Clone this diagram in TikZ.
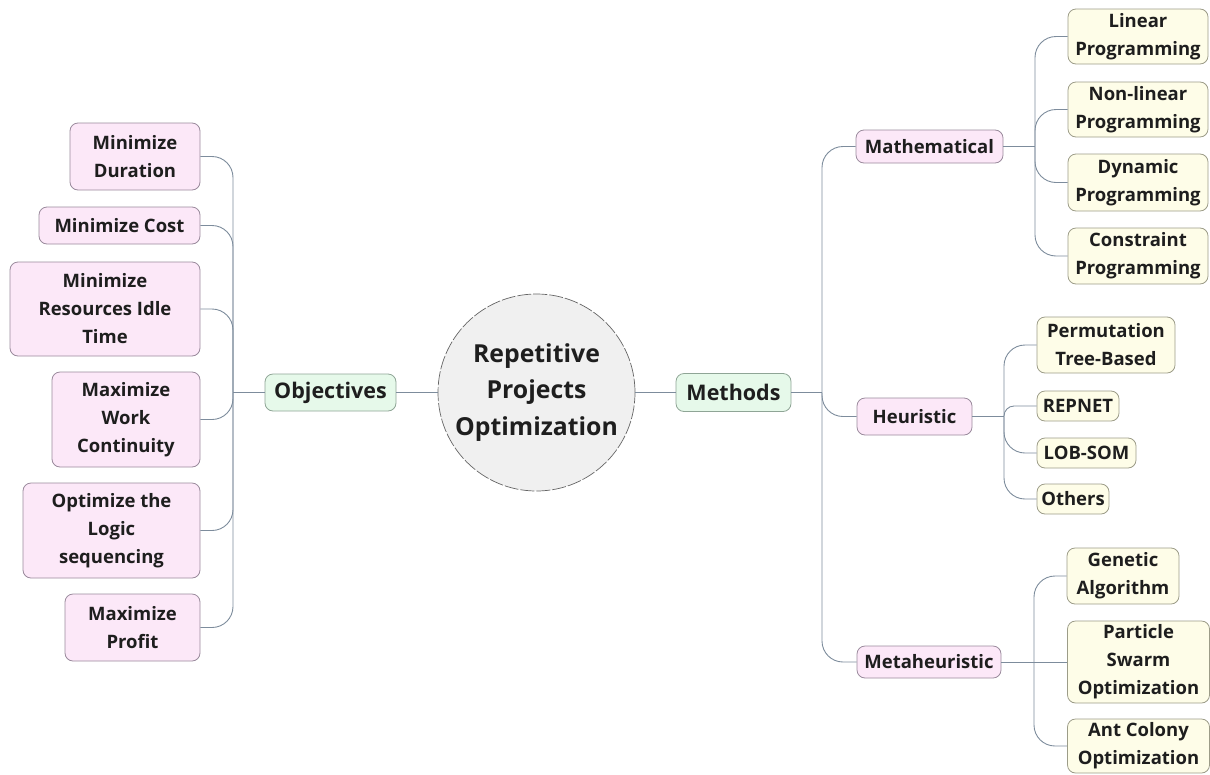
\documentclass[tikz,border=0pt]{standalone}
\usepackage{fontspec}
\setmainfont{Open Sans}
\definecolor{pinkf}{HTML}{FCE8F8}
\definecolor{pinkd}{HTML}{9A8A9C}
\definecolor{yelf}{HTML}{FEFDE8}
\definecolor{yeld}{HTML}{9C9C88}
\definecolor{grnf}{HTML}{E6F9EA}
\definecolor{grnd}{HTML}{8FA596}
\definecolor{linec}{HTML}{7D8C9C}
\definecolor{txt}{HTML}{1E1E1E}
\tikzset{
  box/.style={rounded corners=8pt, line width=0.8pt, align=center, inner sep=0pt,
    font=\bfseries\fontsize{18.5}{28}\selectfont, text=txt},
  pinkbox/.style={box, fill=pinkf, draw=pinkd},
  yelbox/.style={box, fill=yelf, draw=yeld},
  grnbox/.style={box, fill=grnf, draw=grnd, font=\bfseries\fontsize{21.5}{28}\selectfont},
  conn/.style={draw=linec, line width=0.9pt},
  curv/.style={conn, rounded corners=21pt},
}
\begin{document}
\begin{tikzpicture}[x=1pt,y=-1pt]
\useasboundingbox (0,0) rectangle (1210,774);
% centre
\node[circle, minimum size=197pt, inner sep=0pt, fill=black!6, draw=black!60, line width=0.7pt,
  dash pattern=on 14pt off 2pt, align=center, text=txt,
  font=\bfseries\fontsize{24.8}{36.5}\selectfont] (c) at (536.5,392.5) {Repetitive\\Projects\\Optimization};
\node[grnbox, minimum width=131pt, minimum height=37pt] (obj) at (330.5,392.5) {Objectives};
\node[grnbox, minimum width=115pt, minimum height=38pt] (met) at (733.5,392.5) {Methods};
% objectives
\node[pinkbox, minimum width=130pt, minimum height=67pt] (o1) at (135,156.5) {Minimize\\Duration};
\node[pinkbox, minimum width=161pt, minimum height=37pt] (o2) at (119.5,225.5) {Minimize Cost};
\node[pinkbox, minimum width=190pt, minimum height=94pt] (o3) at (105,309) {Minimize\\Resources Idle\\Time};
\node[pinkbox, minimum width=148pt, minimum height=95pt] (o4) at (126,419.5) {Maximize\\Work\\Continuity};
\node[pinkbox, minimum width=177pt, minimum height=95pt] (o5) at (111.5,530.5) {Optimize the\\Logic\\sequencing};
\node[pinkbox, minimum width=135pt, minimum height=67pt] (o6) at (132.5,627.5) {Maximize\\Profit};
% methods
\node[pinkbox, minimum width=147pt, minimum height=33pt] (m1) at (929.5,146.5) {Mathematical};
\node[pinkbox, minimum width=115pt, minimum height=37pt] (m2) at (914.5,416.5) {Heuristic};
\node[pinkbox, minimum width=144pt, minimum height=32pt] (m3) at (929,662) {Metaheuristic};
% mathematical children
\node[yelbox, minimum width=140pt, minimum height=55pt] (a1) at (1138,36.5) {Linear\\Programming};
\node[yelbox, minimum width=140pt, minimum height=55pt] (a2) at (1138,109.5) {Non-linear\\Programming};
\node[yelbox, minimum width=140pt, minimum height=57pt] (a3) at (1138,182.5) {Dynamic\\Programming};
\node[yelbox, minimum width=140pt, minimum height=56pt] (a4) at (1138,256) {Constraint\\Programming};
% heuristic children
\node[yelbox, minimum width=138pt, minimum height=56pt] (b1) at (1106,345) {Permutation\\Tree-Based};
\node[yelbox, minimum width=82pt, minimum height=30pt] (b2) at (1078,406) {REPNET};
\node[yelbox, minimum width=99pt, minimum height=30pt] (b3) at (1086.5,453) {LOB-SOM};
\node[yelbox, minimum width=72pt, minimum height=30pt] (b4) at (1073,499) {Others};
% metaheuristic children
\node[yelbox, minimum width=112pt, minimum height=56pt] (g1) at (1123,576) {Genetic\\Algorithm};
\node[yelbox, minimum width=142pt, minimum height=82pt] (g2) at (1138.5,662) {Particle\\Swarm\\Optimization};
\node[yelbox, minimum width=142pt, minimum height=54pt] (g3) at (1138.5,746) {Ant Colony\\Optimization};
% trunk coordinates
\coordinate (lt) at (233,392.5);
\coordinate (rt) at (822,392.5);
\coordinate (at) at (1035,146.5);
\coordinate (bt) at (1004,416.5);
\coordinate (gt) at (1034,662);
% main connectors
\draw[conn] (obj.east) -- (c.west);
\draw[conn] (c.east) -- (met.west);
\draw[conn] (obj.west) -- (lt);
\draw[conn] (met.east) -- (rt);
\draw[conn] (m1.east) -- (at);
\draw[conn] (m2.east) -- (bt);
\draw[conn] (m3.east) -- (gt);
% objectives branches
\foreach \n in {o1,o2,o3,o4,o5,o6} \draw[curv] (lt) |- (\n.east);
% methods branches
\draw[curv] (rt) |- (m1.west);
\draw[curv] (rt) |- (m2.west);
\draw[curv] (rt) |- (m3.west);
\foreach \n in {a1,a2,a3,a4} \draw[curv] (at) |- (\n.west);
\draw[curv] (bt) |- (b1.west);
\draw[conn, rounded corners=10pt] (bt) |- (b2.west);
\draw[curv] (bt) |- (b3.west);
\draw[curv] (bt) |- (b4.west);
\draw[curv] (gt) |- (g1.west);
\draw[conn] (gt) -- (g2.west);
\draw[curv] (gt) |- (g3.west);
\end{tikzpicture}
\end{document}
